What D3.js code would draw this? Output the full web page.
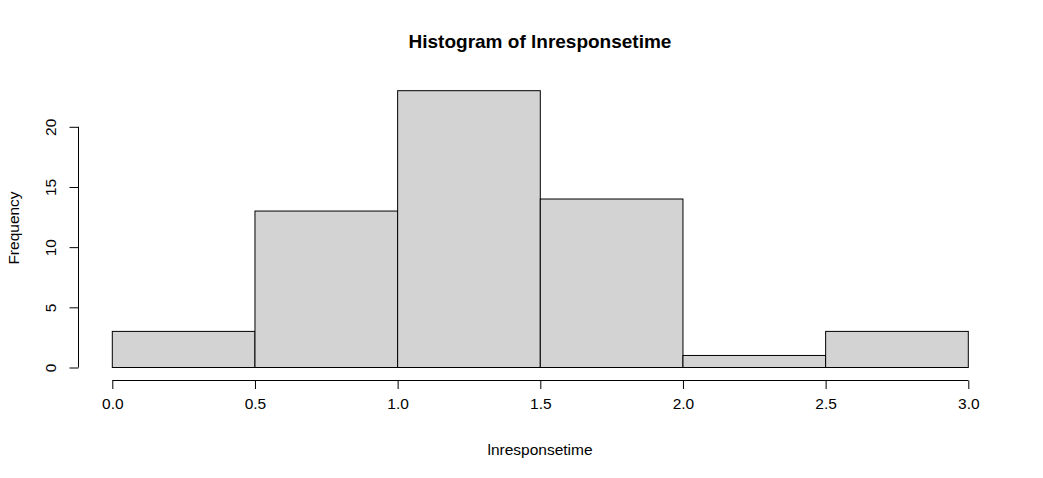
<!DOCTYPE html>
<html>
<head>
<meta charset="utf-8">
<script src="https://cdn.jsdelivr.net/npm/d3@7"></script>
<style>
  body { margin: 0; background: #fff; }
  text { font-family: "Liberation Sans", Arial, sans-serif; fill: #000; }
</style>
</head>
<body>
<div id="chart-area"></div>
<script>
// SVG Size
let width = 1043,
	height = 478;

// histogram data (bin edges + counts)
let binStarts = [0.0, 0.5, 1.0, 1.5, 2.0, 2.5];
let binEnds = [0.5, 1.0, 1.5, 2.0, 2.5, 3.0];
let counts = [3, 13, 23, 14, 1, 3];
let xTicks = [0.0, 0.5, 1.0, 1.5, 2.0, 2.5, 3.0];
let yTicks = [0, 5, 10, 15, 20];

drawChart();

function drawChart() {
	let svg = d3.select("#chart-area")
		.append("svg")
		.attr("width", width)
		.attr("height", height);

	let x = d3.scaleLinear()
		.domain([0, 3])
		.range([112.3, 968.3]);

	let y = d3.scaleLinear()
		.domain([0, 20])
		.range([367.5, 126.8]);

	// bars
	svg.selectAll("rect.bar")
		.data(counts)
		.enter()
		.append("rect")
		.attr("class", "bar")
		.attr("x", (d, i) => x(binStarts[i]))
		.attr("y", d => y(d))
		.attr("width", (d, i) => x(binEnds[i]) - x(binStarts[i]))
		.attr("height", d => y(0) - y(d))
		.attr("fill", "#d3d3d3")
		.attr("stroke", "#000")
		.attr("stroke-width", 1);

	// x axis (R style, detached)
	let xAxis = d3.axisBottom(x)
		.tickValues(xTicks)
		.tickFormat(d3.format(".1f"))
		.tickSize(8.5)
		.tickSizeOuter(0)
		.tickPadding(9);

	let gx = svg.append("g")
		.attr("transform", "translate(0,380.5)")
		.call(xAxis);
	gx.select(".domain").attr("d", "M" + x(0) + ",0H" + x(3)).attr("stroke", "#000");
	gx.selectAll("text").style("font-size", "15.5px").attr("fill", "#000");

	// y axis
	let yAxis = d3.axisLeft(y)
		.tickValues(yTicks)
		.tickSize(9)
		.tickSizeOuter(0)
		.tickPadding(0);

	let gy = svg.append("g")
		.attr("transform", "translate(78.5,0)")
		.call(yAxis);
	gy.select(".domain").attr("d", "M0," + y(0) + "V" + y(20)).attr("stroke", "#000");
	gy.selectAll(".tick text")
		.style("font-size", "15.5px")
		.attr("fill", "#000")
		.attr("x", 0)
		.attr("dy", null)
		.attr("text-anchor", "middle")
		.attr("transform", "translate(-28,0) rotate(-90)")
		.attr("dominant-baseline", "central");

	// title
	svg.append("text")
		.attr("x", 540)
		.attr("y", 48)
		.attr("text-anchor", "middle")
		.style("font-size", "19px")
		.style("font-weight", "bold")
		.text("Histogram of lnresponsetime");

	// x label
	svg.append("text")
		.attr("x", 540)
		.attr("y", 455)
		.attr("text-anchor", "middle")
		.style("font-size", "15.5px")
		.text("lnresponsetime");

	// y label
	svg.append("text")
		.attr("transform", "translate(19," + 228 + ") rotate(-90)")
		.attr("text-anchor", "middle")
		.style("font-size", "15.5px")
		.text("Frequency");
}
</script>
</body>
</html>
